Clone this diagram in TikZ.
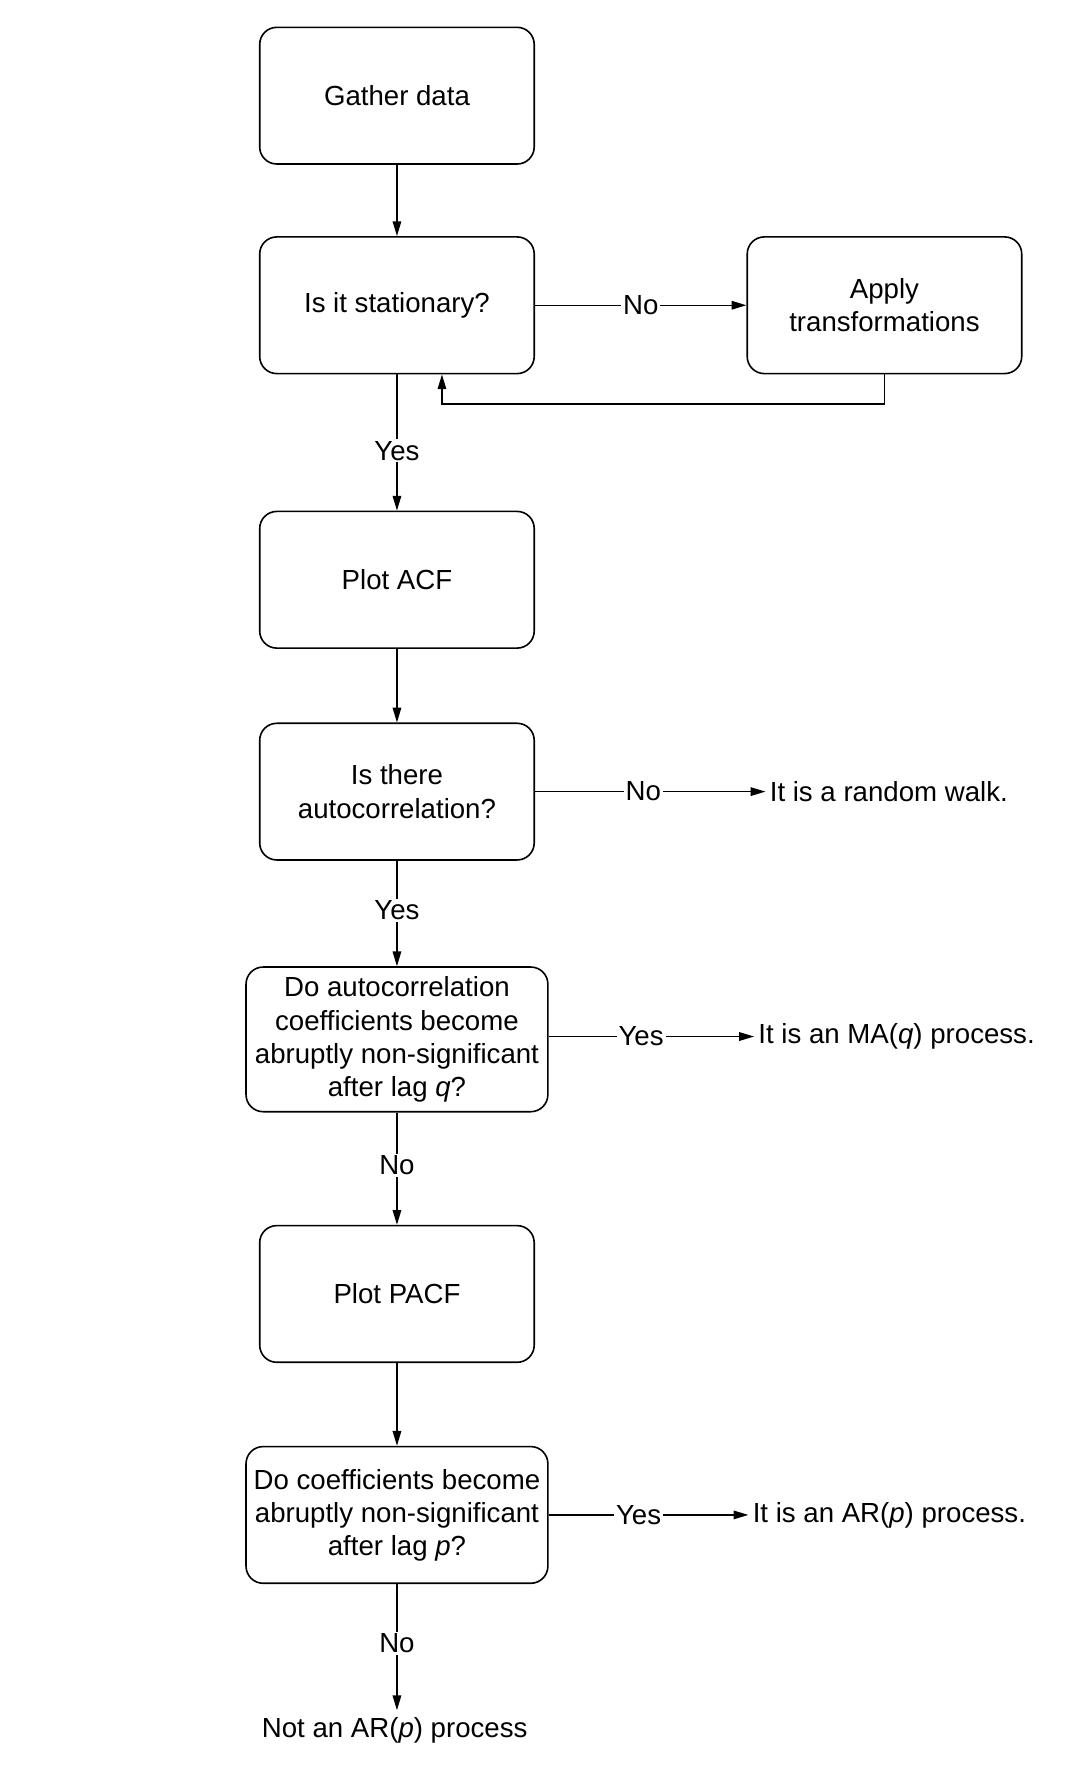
\documentclass[tikz,border=0pt]{standalone}
\usepackage{fontspec}
\setmainfont{Liberation Sans}
\usetikzlibrary{arrows.meta}

\begin{document}
\begin{tikzpicture}[font=\fontsize{13.8}{16.5}\selectfont,
  stepbox/.style={draw,line width=0.8pt,rounded corners=0.3cm,align=center,minimum width=4.82cm,minimum height=2.4cm,inner sep=2pt},
  widebox/.style={stepbox,minimum width=5.3cm},
  arr/.style={-{Triangle[length=2.6mm,width=1.5mm]},line width=0.7pt},
  lbl/.style={fill=white,inner sep=1pt}]
\useasboundingbox (0,0) rectangle (18.92,-31.36);
\node[stepbox] (gather) at (6.97,-1.68) {Gather data};
\node[stepbox] (stat) at (6.97,-5.36) {Is it stationary?};
\node[stepbox] (apply) at (15.53,-5.36) {Apply\\transformations};
\node[stepbox] (acf) at (6.97,-10.18) {Plot ACF};
\node[stepbox] (auto) at (6.97,-13.9) {Is there\\autocorrelation?};
\node[widebox,minimum height=2.54cm] (ma) at (6.97,-18.25) {Do autocorrelation\\coefficients become\\abruptly non-significant\\after lag \emph{q}?};
\node[stepbox] (pacf) at (6.97,-22.72) {Plot PACF};
\node[widebox] (ar) at (6.97,-26.6) {Do coefficients become\\abruptly non-significant\\after lag \emph{p}?};
\node[anchor=west,inner sep=2pt] (walk) at (13.44,-13.9) {It is a random walk.};
\node[anchor=west,inner sep=2pt] (maend) at (13.24,-18.2) {It is an MA(\emph{q}) process.};
\node[anchor=west,inner sep=2pt] (arend) at (13.14,-26.6) {It is an AR(\emph{p}) process.};
\node (notar) at (6.93,-30.38) {Not an AR(\emph{p}) process};
% main flow
\draw[arr] (gather) -- (stat);
\draw[arr] (stat) -- node[lbl,pos=0.56]{Yes} (acf);
\draw[arr] (acf) -- (auto);
\draw[arr] (auto) -- node[lbl,pos=0.47]{Yes} (ma);
\draw[arr] (ma) -- node[lbl,pos=0.47]{No} (pacf);
\draw[arr] (pacf) -- (ar);
\draw[arr] (ar.south) -- node[lbl,pos=0.47]{No} (ar.south |- notar.north);
% side branches
\draw[arr] (stat) -- node[lbl]{No} (apply);
\draw[arr] (apply.south) -- ++(0,-0.52) -| ([xshift=0.79cm]stat.south);
\draw[arr] (auto.east) -- node[lbl,pos=0.47]{No} (walk.west |- auto.east);
\draw[arr] (ma.east |- maend.west) -- node[lbl,pos=0.45]{Yes} (maend.west);
\draw[arr] (ar.east) -- node[lbl,pos=0.45]{Yes} (arend.west |- ar.east);
\end{tikzpicture}
\end{document}
